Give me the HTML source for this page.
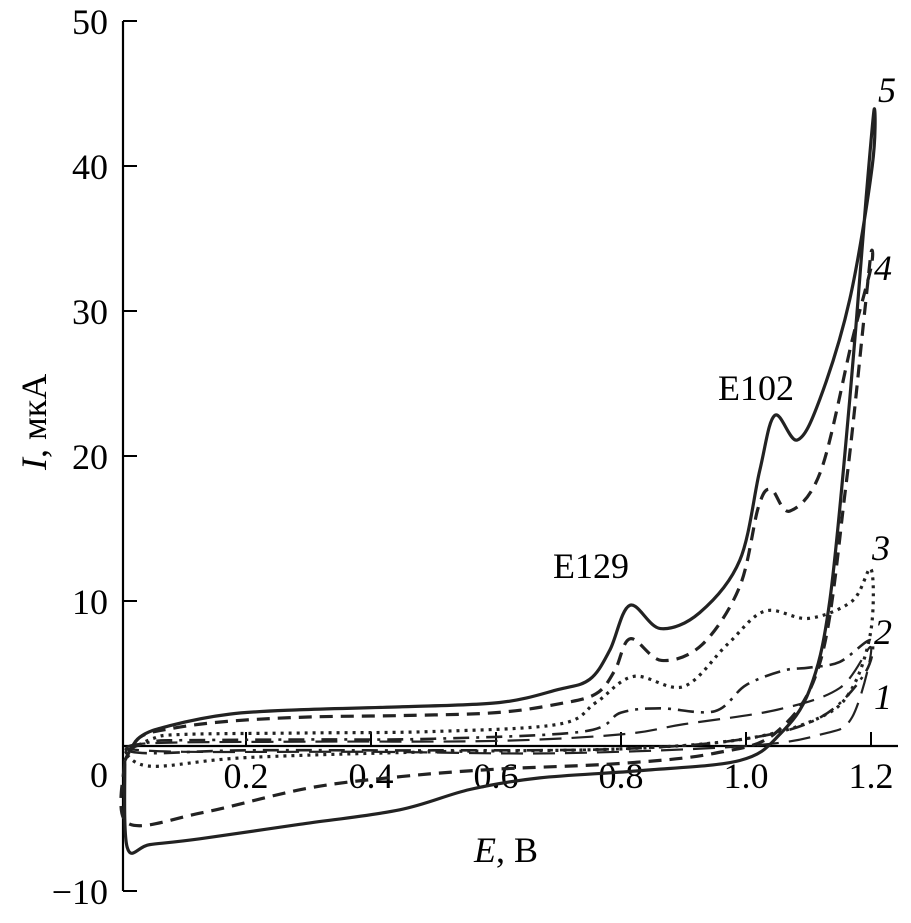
<!DOCTYPE html>
<html><head><meta charset="utf-8">
<style>
html,body{margin:0;padding:0;background:#fff;}
svg{display:block;font-family:"Liberation Serif",serif;}
</style></head>
<body>
<svg id="chart" width="911" height="923" viewBox="0 0 911 923" xmlns="http://www.w3.org/2000/svg">
<g id="axes"></g>
<g id="series"></g>
<g id="labels"></g>
</svg>
<script>
// data
const xTicks = [0.2, 0.4, 0.6, 0.8, 1.0, 1.2];
const xTickLabels = ["0.2", "0.4", "0.6", "0.8", "1.0", "1.2"];
const yTicks = [50, 40, 30, 20, 10, 0, -10];
const yTickLabels = ["50", "40", "30", "20", "10", "0", "\u221210"];
const c5E = [0.006,0.03,0.078,0.174,0.286,0.446,0.606,0.70,0.75,0.782,0.814,0.863,0.926,0.99,1.022,1.046,1.082,1.118,1.166,1.202,1.205,1.192,1.166,1.134,1.102,1.054,0.99,0.83,0.67,0.558,0.446,0.286,0.126,0.046,0.01,0.006];
const c5I = [-1,0.6,1.4,2.2,2.5,2.7,3.0,3.9,4.6,6.6,9.7,8.1,9.2,12.8,19,22.8,21.1,23.9,30.8,40,43.9,37.7,23.9,10,3.9,0.8,-1,-1.7,-2.2,-3.0,-4.4,-5.4,-6.4,-6.8,-7.0,-1];
const c4E = [0.006,0.03,0.08,0.17,0.3,0.45,0.6,0.7,0.76,0.79,0.815,0.865,0.93,0.99,1.02,1.04,1.07,1.12,1.17,1.2,1.2,1.19,1.16,1.12,1.05,0.95,0.8,0.6,0.45,0.3,0.13,0.01,0.006];
const c4I = [-1,0.6,1.2,1.7,2.0,2.1,2.3,2.9,3.6,5.2,7.4,5.9,7.0,11,16.5,17.7,16.2,19,28,33,34,30,18,6,1,-0.5,-1.2,-1.6,-2.1,-2.9,-4.6,-5.3,-1];
const c3E = [0.006,0.05,0.1,0.3,0.5,0.7,0.76,0.82,0.9,0.97,1.03,1.1,1.17,1.2,1.2,1.17,1.12,1.0,0.8,0.5,0.2,0.05,0.006];
const c3I = [-0.5,0.5,0.8,0.9,1.0,1.5,3.0,4.8,4.1,7,9.3,8.8,10,12.2,8,4,2,0.5,-0.2,-0.4,-0.8,-1.4,-0.5];
const c2E = [0.006,0.05,0.1,0.3,0.5,0.74,0.8,0.862,0.95,1.0,1.06,1.1,1.15,1.2,1.19,1.12,1.0,0.8,0.5,0.2,0.05,0.006];
const c2I = [-0.3,0.3,0.4,0.45,0.5,1.0,2.3,2.6,2.4,4.2,5.2,5.4,5.8,7.3,5,2,0.5,-0.2,-0.3,-0.3,-0.5,-0.3];
const c1E = [0.006,0.05,0.3,0.6,0.8,0.9,1.05,1.15,1.2,1.17,1.12,1.0,0.7,0.4,0.1,0.006];
const c1I = [-0.2,0.2,0.3,0.35,0.8,1.5,2.5,4,6.8,2,0.8,0,-0.5,-0.4,-0.4,-0.2];

const NS="http://www.w3.org/2000/svg";
function X(v){return 121+v*625;}
function Y(v){return 746-v*14.5;}
function mk(tag,parent,attrs){const e=document.createElementNS(NS,tag);for(const k in attrs)e.setAttribute(k,attrs[k]);parent.appendChild(e);return e;}
const axes=document.getElementById('axes'),series=document.getElementById('series'),labels=document.getElementById('labels');

let yAx=mk('line',axes,{x1:123,y1:Y(50),x2:123,y2:Y(-10),stroke:'#000','stroke-width':2.2});


let xAx=mk('line',axes,{x1:123,y1:Y(0),x2:898,y2:Y(0),stroke:'#000','stroke-width':2.2});



xTicks.forEach((t,i)=>{
  let tk=mk('line',axes,{x1:X(t),y1:Y(0),x2:X(t),y2:Y(0)-14,stroke:'#000','stroke-width':2});
  
  
  let tl=mk('text',axes,{x:X(t),y:788,'font-size':36,'text-anchor':'middle'});
  tl.textContent=xTickLabels[i];
  
  
});
yTicks.forEach((t,i)=>{
  let tk=mk('line',axes,{x1:123,y1:Y(t),x2:137,y2:Y(t),stroke:'#000','stroke-width':2});
  
  
  let ty=t===0?Y(t)+41:Y(t)+13;
  let tl=mk('text',axes,{x:108,y:ty,'font-size':36,'text-anchor':'end'});
  tl.textContent=yTickLabels[i];
  
  
});

function pathD(E,I){
  const p=E.map((e,i)=>[X(e),Y(I[i])]);
  let d='M'+p[0][0]+','+p[0][1];
  for(let i=0;i<p.length-1;i++){
    const p0=p[i-1]||p[i],p1=p[i],p2=p[i+1],p3=p[i+2]||p2;
    const c1x=p1[0]+(p2[0]-p0[0])/6,c1y=p1[1]+(p2[1]-p0[1])/6;
    const c2x=p2[0]-(p3[0]-p1[0])/6,c2y=p2[1]-(p3[1]-p1[1])/6;
    d+=' C'+c1x+','+c1y+' '+c2x+','+c2y+' '+p2[0]+','+p2[1];
  }
  return d;
}
const styles=[
 [c1E,c1I,'curve-1','22 10',2.2],
 [c2E,c2I,'curve-2','16 7 3 7',2.6],
 [c3E,c3I,'curve-3','3 5',3.2],
 [c4E,c4I,'curve-4','13 8',3.2],
 [c5E,c5I,'curve-5','none',3.2]
];
styles.forEach(s=>{
  let p=mk('path',series,{d:pathD(s[0],s[1]),fill:'none',stroke:'#222','stroke-width':s[4],'stroke-dasharray':s[3],'stroke-linejoin':'round'});
  
  
});

function txt(x,y,s,name,extra){
  let t=mk('text',labels,Object.assign({x:x,y:y,'font-size':36},extra||{}));
  t.textContent=s;
  
  
  return t;
}
txt(878,102,'5','label-5',{'font-style':'italic'});
txt(874,280,'4','label-4',{'font-style':'italic'});
txt(872,560,'3','label-3',{'font-style':'italic'});
txt(874,644,'2','label-2',{'font-style':'italic'});
txt(874,709,'1','label-1',{'font-style':'italic'});
txt(718,400,'E102','peak-label-e102');
txt(553,578,'E129','peak-label-e129');
let xl=txt(474,862,'','x-axis-title');
xl.innerHTML='<tspan font-style="italic">E</tspan>, В';
let yl=txt(0,0,'','y-axis-title',{transform:'translate(46,470) rotate(-90)'});
yl.innerHTML='<tspan font-style="italic">I</tspan>, мкА';
</script>
</body></html>
